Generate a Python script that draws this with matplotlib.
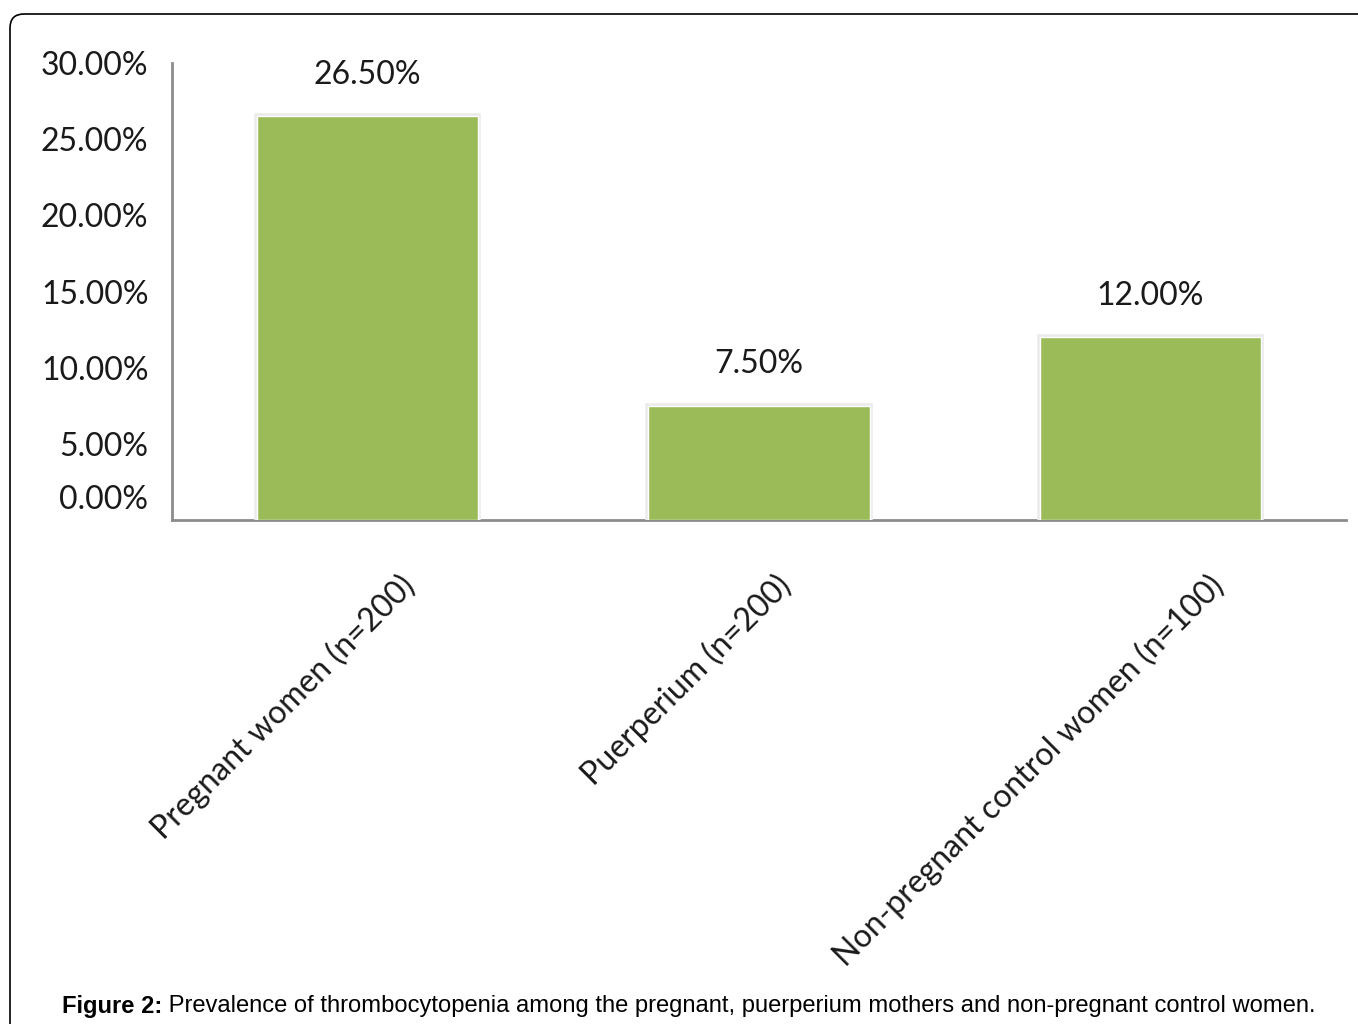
import matplotlib
matplotlib.use("Agg")
import matplotlib.pyplot as plt
import matplotlib.patheffects as pe
import matplotlib.transforms as mtransforms
from matplotlib.patches import FancyBboxPatch
from matplotlib.ticker import FuncFormatter

categories = ["Pregnant women (n=200)", "Puerperium (n=200)", "Non-pregnant control women (n=100)"]
values = [26.5, 7.5, 12.0]
value_labels = ["26.50%", "7.50%", "12.00%"]
y_ticks = [0, 5, 10, 15, 20, 25, 30]

caption_bold = "Figure 2:"
caption_text = " Prevalence of thrombocytopenia among the pregnant, puerperium mothers and non-pregnant control women."

W, H = 1358, 1024
fig = plt.figure(figsize=(W / 100, H / 100), dpi=100)
ax = fig.add_axes([172 / W, 1 - 520 / H, (1346 - 172) / W, (520 - 63) / H])

font = "Lato"
txt_color = "#1a1a1a"
bars = ax.bar(range(len(values)), values, width=0.565, color="#9bbb59",
              edgecolor="white", linewidth=1, zorder=3)
for b in bars:
    b.set_path_effects([pe.Stroke(linewidth=4, foreground="#ebebeb"), pe.Normal()])

for i, (v, lab) in enumerate(zip(values, value_labels)):
    ax.annotate(lab, (i, v), xytext=(0, 19), textcoords="offset points",
                ha="center", va="bottom", fontsize=23, family=font, color=txt_color)

ax.set_xlim(-0.5, 2.5)
ax.set_ylim(0, 30)
ax.set_yticks(y_ticks)
ax.yaxis.set_major_formatter(FuncFormatter(lambda v, p: f"{v:.2f}%"))
ax.set_xticks(range(len(categories)))
ax.set_xticklabels(categories)
ax.tick_params(axis="both", length=0)
ax.tick_params(axis="y", pad=17)

for lab in ax.get_yticklabels():
    lab.set_fontsize(23)
    lab.set_family(font)
    lab.set_color(txt_color)
# the bottom label sits a little above the axis line
ylabs = ax.get_yticklabels()
ylabs[0].set_transform(ylabs[0].get_transform() + mtransforms.ScaledTranslation(0, 23 / 100, fig.dpi_scale_trans))

# small per-label nudges (pixels) to follow the reference placement
nudges = [(42, -56), (27, -56), (68, -56)]
for lab, (dx, dy) in zip(ax.get_xticklabels(), nudges):
    lab.set_fontsize(23)
    lab.set_family(font)
    lab.set_color(txt_color)
    lab.set_rotation(45)
    lab.set_rotation_mode("anchor")
    lab.set_ha("right")
    lab.set_va("center")
    lab.set_transform(lab.get_transform() + mtransforms.ScaledTranslation(dx / 100, dy / 100, fig.dpi_scale_trans))

for s in ["top", "right"]:
    ax.spines[s].set_visible(False)
for s in ["left", "bottom"]:
    ax.spines[s].set_color("#8c8c8c")
    ax.spines[s].set_linewidth(2)

# rounded frame around the whole figure
frame = FancyBboxPatch((10, -40), W + 40, H + 40 - 14,
                       boxstyle="round,pad=0,rounding_size=14",
                       transform=mtransforms.IdentityTransform(),
                       facecolor="none", edgecolor="black", linewidth=1.2)
fig.add_artist(frame)

# caption, sized to span the same width as in the reference
cap_y = 1 - 1006 / H
cap_font = "Liberation Sans"
t1 = fig.text(62 / W, cap_y, caption_bold, fontsize=17, fontweight="bold",
              family=cap_font, va="center", ha="left")
t2 = fig.text(0, cap_y, caption_text, fontsize=17, family=cap_font, va="center", ha="left")
r = fig.canvas.get_renderer()
total = t1.get_window_extent(r).width + t2.get_window_extent(r).width
size = 17 * 1258 / total
t1.set_fontsize(size)
t2.set_fontsize(size)
t2.set_x(t1.get_window_extent(r).x1 / W)

fig.savefig("out.png", dpi=100)
